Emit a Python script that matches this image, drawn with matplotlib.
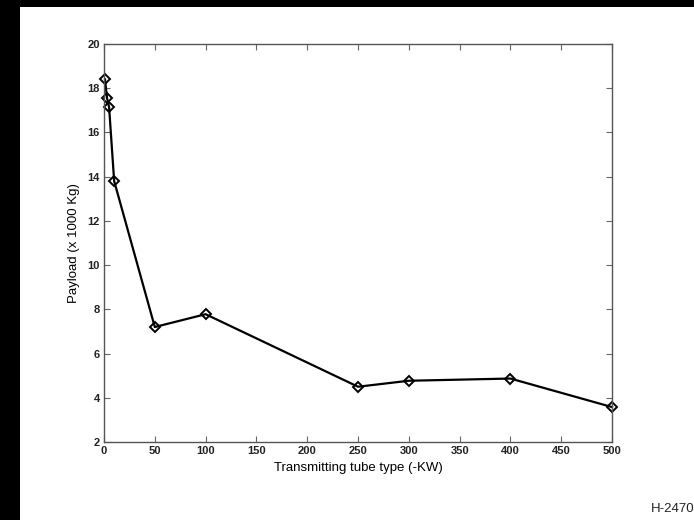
import matplotlib
matplotlib.use("Agg")
import matplotlib.pyplot as plt
from matplotlib.patches import Rectangle

# Transmitter tube rating (kW) vs. deliverable payload (thousands of kg)
tube_kw = [1, 3, 5, 10, 50, 100, 250, 300, 400, 500]
payload_kkg = [18.4, 17.55, 17.15, 13.8, 7.2, 7.78, 4.5, 4.77, 4.87, 3.58]

x_ticks = list(range(0, 501, 50))
y_ticks = list(range(2, 21, 2))

plt.rcParams['font.family'] = ['Liberation Sans', 'DejaVu Sans']

fig = plt.figure(figsize=(6.94, 5.2), dpi=100)
fig.patch.set_facecolor('white')

# dark frame strips along the top and left edges
fig.patches.append(Rectangle((0, 1 - 7 / 520), 1, 7 / 520, transform=fig.transFigure,
                             facecolor='black', edgecolor='none', zorder=0))
fig.patches.append(Rectangle((0, 0), 20 / 694, 1, transform=fig.transFigure,
                             facecolor='black', edgecolor='none', zorder=0))

ax = fig.add_axes([104 / 694, 78 / 520, 508 / 694, 398 / 520])
ax.plot(tube_kw, payload_kkg, color='black', linewidth=1.6,
        marker='D', markersize=5.5, markerfacecolor='none',
        markeredgecolor='black', markeredgewidth=1.4, clip_on=False)

ax.set_xlim(0, 500)
ax.set_ylim(2, 20)
ax.set_xticks(x_ticks)
ax.set_yticks(y_ticks)
ax.tick_params(direction='in', length=4, width=0.8, color='#666666',
               top=True, right=True, labelsize=8, pad=3)
for lbl in ax.get_xticklabels() + ax.get_yticklabels():
    lbl.set_fontweight('bold')
    lbl.set_color('#222222')
for sp in ax.spines.values():
    sp.set_color('#555555')
    sp.set_linewidth(1.0)

ax.set_xlabel('Transmitting tube type (-KW)', fontsize=9.5, labelpad=4)
ax.set_ylabel('Payload (x 1000 Kg)', fontsize=9.5, labelpad=5)

fig.text(694 / 694, 1 - 512 / 520, 'H-2470', ha='right', va='baseline',
         fontsize=9.5, color='#222222')

fig.savefig('out.png', dpi=100, facecolor=fig.get_facecolor())
